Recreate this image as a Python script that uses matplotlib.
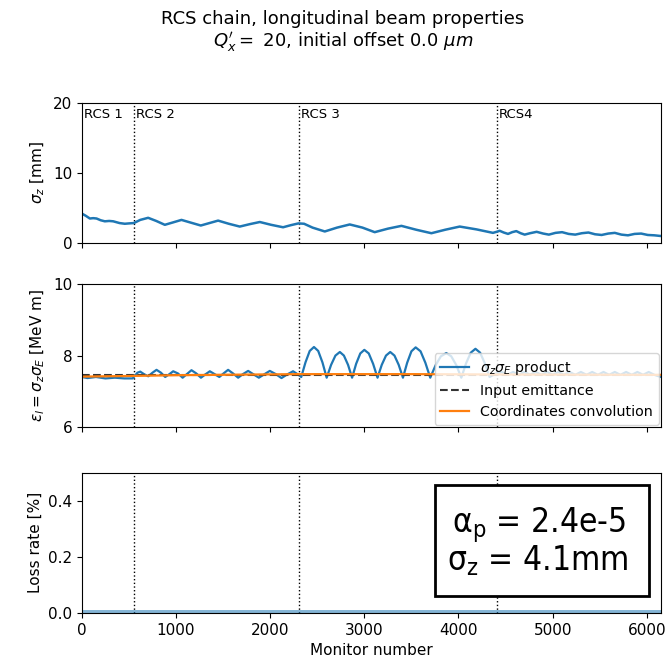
import matplotlib
matplotlib.use("Agg")
import matplotlib.pyplot as plt
from matplotlib.patches import Rectangle

# section boundaries (monitor number)
rcs_bounds = [552, 2304, 4405]
rcs_labels = ["RCS 1", "RCS 2", "RCS 3", "RCS4"]
rcs_label_pos = [0, 552, 2304, 4405]

# bunch length sigma_z [mm]
mon_sz = [0, 40, 85, 120, 156, 200, 244, 290, 333, 400, 456, 500, 552, 620, 704, 790,
          881, 970, 1058, 1160, 1263, 1355, 1447, 1560, 1677, 1785, 1890, 2010, 2137,
          2220, 2300, 2360, 2450, 2580, 2710, 2845, 2980, 3110, 3250, 3394, 3550, 3712,
          3860, 4013, 4190, 4366, 4405, 4437, 4480, 4526, 4570, 4614, 4660, 4703, 4760,
          4830, 4900, 4960, 5030, 5100, 5170, 5240, 5310, 5380, 5450, 5520, 5590, 5660,
          5730, 5800, 5870, 5940, 6010, 6080, 6150]
sigma_z = [4.2, 3.9, 3.5, 3.55, 3.5, 3.25, 3.1, 3.15, 3.1, 2.85, 2.75, 2.8, 2.85, 3.3, 3.6,
           3.15, 2.6, 2.95, 3.3, 2.9, 2.5, 2.85, 3.2, 2.75, 2.35, 2.7, 3.0, 2.6, 2.25, 2.55,
           2.8, 2.75, 2.2, 1.65, 2.2, 2.65, 2.2, 1.55, 2.05, 2.45, 1.9, 1.4, 1.9, 2.35, 1.95,
           1.45, 1.6, 1.75, 1.5, 1.3, 1.55, 1.7, 1.4, 1.2, 1.4, 1.6, 1.35, 1.2, 1.45, 1.55,
           1.3, 1.2, 1.4, 1.5, 1.25, 1.15, 1.35, 1.45, 1.2, 1.1, 1.3, 1.35, 1.15, 1.1, 1.0]

# emittance sigma_z * sigma_E [MeV m]
mon_em = [0, 60, 150, 250, 350, 450, 540, 552, 590, 620, 660, 705, 750, 793, 840, 885,
          930, 970, 1020, 1070, 1115, 1164, 1215, 1265, 1310, 1359, 1410, 1460, 1505,
          1553, 1605, 1660, 1710, 1766, 1820, 1880, 1940, 1996, 2060, 2120, 2180, 2243,
          2290, 2330, 2375, 2420, 2465, 2510, 2555, 2600, 2647, 2693, 2740, 2783, 2827,
          2870, 2913, 2957, 3000, 3047, 3093, 3140, 3185, 3230, 3275, 3320, 3365, 3410,
          3455, 3500, 3545, 3597, 3648, 3700, 3757, 3813, 3870, 3923, 3977, 4030, 4080,
          4130, 4180, 4230, 4280, 4330, 4400, 4460, 4520, 4580, 4640, 4700, 4760, 4820,
          4880, 4940, 5000, 5060, 5120, 5180, 5240, 5300, 5360, 5420, 5480, 5540, 5600,
          5660, 5720, 5780, 5840, 5900, 5960, 6020, 6080, 6150]
emit = [7.40, 7.37, 7.40, 7.36, 7.38, 7.36, 7.36, 7.40, 7.52, 7.55, 7.48, 7.42, 7.52, 7.60,
        7.52, 7.40, 7.48, 7.56, 7.50, 7.38, 7.48, 7.59, 7.50, 7.38, 7.47, 7.56, 7.48, 7.40,
        7.50, 7.60, 7.50, 7.38, 7.48, 7.57, 7.48, 7.38, 7.48, 7.57, 7.48, 7.37, 7.47, 7.56,
        7.48, 7.40, 7.81, 8.13, 8.24, 8.13, 7.81, 7.38, 7.74, 8.00, 8.10, 8.00, 7.74, 7.38,
        7.77, 8.06, 8.16, 8.06, 7.77, 7.38, 7.74, 8.00, 8.10, 8.00, 7.74, 7.38, 7.80, 8.12,
        8.23, 8.12, 7.80, 7.38, 7.73, 7.98, 8.07, 7.98, 7.73, 7.38, 7.78, 8.08, 8.19, 8.08,
        7.78, 7.40, 7.50, 7.54, 7.46, 7.54, 7.46, 7.54, 7.46, 7.54, 7.46, 7.54, 7.46, 7.54,
        7.46, 7.54, 7.46, 7.54, 7.46, 7.54, 7.46, 7.54, 7.46, 7.54, 7.46, 7.54, 7.46, 7.54,
        7.46, 7.54, 7.46, 7.40]

mon_input = [0, 6150]
input_emit = [7.45, 7.45]

mon_conv = [0, 550, 1000, 2300, 3500, 4400, 6150]
conv_emit = [7.41, 7.43, 7.45, 7.48, 7.48, 7.47, 7.46]

# loss rate [%]
mon_loss = [0, 6150]
loss_rate = [0.0, 0.0]

plt.rcParams['font.size'] = 11

fig = plt.figure(figsize=(6.71, 6.64), dpi=100)
ax1 = fig.add_axes([0.122, 0.634, 0.863, 0.211])
ax2 = fig.add_axes([0.122, 0.357, 0.863, 0.215], sharex=ax1)
ax3 = fig.add_axes([0.122, 0.077, 0.863, 0.211], sharex=ax1)

for ax in (ax1, ax2, ax3):
    for b in rcs_bounds:
        ax.axvline(b, color='k', ls=':', lw=1)

ax1.plot(mon_sz, sigma_z, color='C0', lw=1.8)
ax1.set_ylim(0, 20)
ax1.set_yticks([0, 10, 20])
ax1.set_ylabel(r'$\sigma_z$ [mm]')
for lab, pos in zip(rcs_labels, rcs_label_pos):
    ax1.text(pos + 20, 19.3, lab, fontsize=9.5, va='top', ha='left')

ax2.plot(mon_em, emit, color='C0', lw=1.6, label=r'$\sigma_z\sigma_E$ product')
ax2.plot(mon_input, input_emit, color='#333333', ls='--', lw=1.5, label='Input emittance')
ax2.plot(mon_conv, conv_emit, color='C1', lw=1.6, label='Coordinates convolution')
ax2.set_ylim(6, 10)
ax2.set_yticks([6, 8, 10])
ax2.set_ylabel(r'$\epsilon_l = \sigma_z\sigma_E$ [MeV m]')
ax2.legend(loc='lower right', fontsize=10.3, borderaxespad=0.15)

ax3.plot(mon_loss, loss_rate, color='C0', lw=5, alpha=0.55)
ax3.set_ylim(0, 0.5)
ax3.set_yticks([0.0, 0.2, 0.4])
ax3.set_ylabel('Loss rate [%]')
ax3.set_xlabel('Monitor number')
ax3.set_xlim(0, 6150)
ax3.set_xticks([0, 1000, 2000, 3000, 4000, 5000, 6000])

plt.setp(ax1.get_xticklabels(), visible=False)
plt.setp(ax2.get_xticklabels(), visible=False)

# parameter box
ax3.add_patch(Rectangle((0.61, 0.121), 0.369, 0.793, transform=ax3.transAxes,
                        fill=True, facecolor='white', edgecolor='black', lw=2, zorder=5))
ax3.text(0.79, 0.63, r'$\mathregular{α_p}$ = 2.4e-5', transform=ax3.transAxes,
         ha='center', va='center', fontsize=24, family='DejaVu Sans', stretch='condensed',
         zorder=6)
ax3.text(0.787, 0.37, r'$\mathregular{σ_z}$ = 4.1mm', transform=ax3.transAxes,
         ha='center', va='center', fontsize=24, family='DejaVu Sans', stretch='condensed',
         zorder=6)

fig.text(0.511, 0.972, 'RCS chain, longitudinal beam properties', ha='center', va='center',
         fontsize=13)
fig.text(0.511, 0.936, r"$Q_x' = $ 20, initial offset 0.0 $\mu m$", ha='center', va='center',
         fontsize=13)

fig.savefig('out.png', dpi=100)
